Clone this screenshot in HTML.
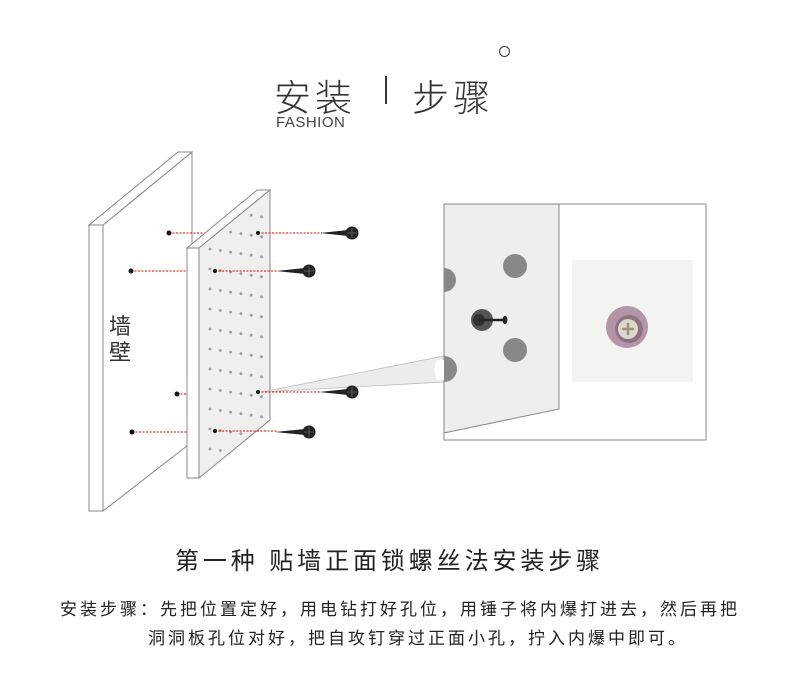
<!DOCTYPE html>
<html><head><meta charset="utf-8">
<style>
html,body{margin:0;padding:0;background:#fff;}
body{width:790px;height:683px;position:relative;overflow:hidden;font-family:"Liberation Sans","Noto Sans CJK SC",sans-serif;color:#222;}
.t{position:absolute;white-space:nowrap;}
</style></head><body>
<div class="t" style="left:274px;top:68px;font-size:37px;font-weight:300;color:#333;letter-spacing:4px;">安装</div>
<div class="t" style="left:385px;top:76px;width:1.5px;height:28px;background:#333;"></div>
<div class="t" style="left:412px;top:68px;font-size:37px;font-weight:300;color:#333;letter-spacing:4px;">步骤</div>
<div class="t" style="left:499px;top:46px;width:9px;height:9px;border:1.3px solid #333;border-radius:50%;"></div>
<div class="t" style="left:276px;top:114px;font-size:15px;color:#444;letter-spacing:0.5px;">FASHION</div>

<svg width="790" height="683" style="position:absolute;left:0;top:0" id="s">
<polygon points="103,225 192,152 192,442 103,511" fill="#fff" stroke="#888" stroke-width="1"/>
<polygon points="89,225 178,152 192,152 103,225" fill="#fff" stroke="#888"/>
<rect x="89" y="225" width="14" height="286" fill="#fff" stroke="#888"/>
<g stroke="#d00" stroke-dasharray="2,1.5" stroke-width="1">
<line x1="169" y1="233" x2="205" y2="233"/>
<line x1="131" y1="271" x2="187" y2="271"/>
<line x1="177" y1="394" x2="187" y2="394"/>
<line x1="132" y1="432" x2="187" y2="432"/>
</g>
<g fill="#111"><circle cx="169" cy="233" r="2.5"/><circle cx="131" cy="271" r="2.5"/><circle cx="177" cy="394" r="2.5"/><circle cx="132" cy="432" r="2.5"/></g>
<polygon points="187,248 257,190 270,190 199,248" fill="#fafafa" stroke="#888"/>
<polygon points="199,248 270,190 270,420 199,478" fill="#efefef" stroke="#888"/>
<rect x="187" y="248" width="12" height="230" fill="#fff" stroke="#888"/>
<g id="dots" fill="#9a9a9a"></g>
<polygon points="262,392 444,356 444,382" fill="#ececec" stroke="#bbb" stroke-width="0.8"/>
<g stroke="#d00" stroke-dasharray="2,1.5" stroke-width="1">
<line x1="258" y1="233" x2="322" y2="233"/>
<line x1="215" y1="271" x2="278" y2="271"/>
<line x1="258" y1="392" x2="320" y2="392"/>
<line x1="215" y1="431" x2="277" y2="431"/>
</g>
<g fill="#111"><circle cx="258" cy="233" r="2"/><circle cx="215" cy="271" r="2"/><circle cx="258" cy="392" r="2"/><circle cx="215" cy="431" r="2"/></g>
<g fill="#222">
<polygon points="320,233 348,230 348,236"/><circle cx="352" cy="233" r="6.5"/>
<polygon points="276,271 305,268 305,274"/><circle cx="309" cy="271" r="6.5"/>
<polygon points="319,392 348,389 348,395"/><circle cx="352" cy="392" r="6.5"/>
<polygon points="275,432 305,429 305,435"/><circle cx="309" cy="432" r="6.5"/>
</g>
<g stroke="#666" stroke-width="0.8">
<path d="M352 228v10M347 233h10M309 266v10M304 271h10M352 387v10M347 392h10M309 427v10M304 432h10"/>
</g>
<rect x="444" y="204" width="262" height="236" fill="#fff" stroke="#888"/>
<polygon points="444,204 559,204 559,409 444,433" fill="#eee" stroke="#888"/>
<circle cx="515" cy="266" r="12" fill="#888"/>
<circle cx="515" cy="350" r="12" fill="#888"/>
<path d="M444 268 a12 12 0 0 1 0 24 z" fill="#888"/>
<path d="M444 356 a12 12 0 0 1 0 26 z" fill="#888"/>
<path d="M438 360 a6 11 0 0 0 0 20 h6 v-20z" fill="#fff"/>
<circle cx="482" cy="320" r="11" fill="#555"/>
<circle cx="479" cy="320" r="6" fill="#333"/>
<line x1="478" y1="320" x2="503" y2="320" stroke="#222" stroke-width="2.5"/>
<ellipse cx="505" cy="320" rx="2.5" ry="4" fill="#222"/>
<rect x="572" y="260" width="121" height="122" fill="#f3f4f1"/>
<circle cx="627" cy="327" r="21" fill="#b495a8"/>
<circle cx="629" cy="329" r="14" fill="#8e7284"/>
<circle cx="628" cy="329" r="10" fill="#ddd8cc"/>
<path d="M628 323v12M622 329h12" stroke="#9a9486" stroke-width="2.5"/>
</svg>

<div class="t" style="left:109px;top:314px;font-size:22px;line-height:26px;color:#333;">墙<br>壁</div>

<div class="t" style="left:175px;top:541px;font-size:24px;color:#222;letter-spacing:3.9px;">第一种 贴墙正面锁螺丝法安装步骤</div>
<div class="t" style="left:60px;top:595px;font-size:17px;color:#222;letter-spacing:3px;">安装步骤：先把位置定好，用电钻打好孔位，用锤子将内爆打进去，然后再把</div>
<div class="t" style="left:148px;top:624px;font-size:17px;color:#222;letter-spacing:3px;">洞洞板孔位对好，把自攻钉穿过正面小孔，拧入内爆中即可。</div>

<script>
var g=document.getElementById('dots'),ns='http://www.w3.org/2000/svg';
for(var c=0;c<6;c++){
  var x=210+c*10.3;
  var off=(c%2)*10;
  var ytop=248-(x-199)*0.82+10+off;
  var ybot=478-(x-199)*0.82-6;
  for(var y=ytop;y<ybot;y+=20){
    var e=document.createElementNS(ns,'circle');
    e.setAttribute('cx',x.toFixed(1));e.setAttribute('cy',y.toFixed(1));e.setAttribute('r','1.4');
    g.appendChild(e);
  }
}
</script>
</body></html>
